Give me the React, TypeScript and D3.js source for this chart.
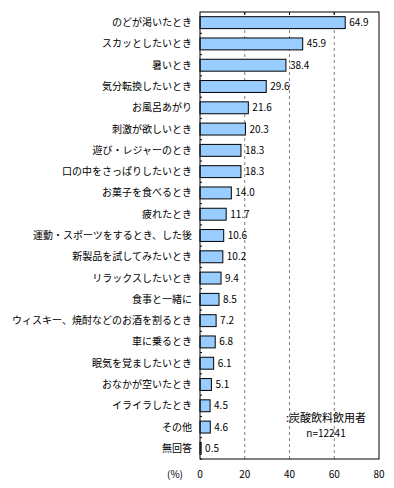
import React from 'react';
import * as d3 from 'd3';

const categories = [
  'のどが渇いたとき',
  'スカッとしたいとき',
  '暑いとき',
  '気分転換したいとき',
  'お風呂あがり',
  '刺激が欲しいとき',
  '遊び・レジャーのとき',
  '口の中をさっぱりしたいとき',
  'お菓子を食べるとき',
  '疲れたとき',
  '運動・スポーツをするとき、した後',
  '新製品を試してみたいとき',
  'リラックスしたいとき',
  '食事と一緒に',
  'ウィスキー、焼酎などのお酒を割るとき',
  '車に乗るとき',
  '眠気を覚ましたいとき',
  'おなかが空いたとき',
  'イライラしたとき',
  'その他',
  '無回答',
];
const values = [64.9, 45.9, 38.4, 29.6, 21.6, 20.3, 18.3, 18.3, 14.0, 11.7, 10.6, 10.2, 9.4, 8.5, 7.2, 6.8, 6.1, 5.1, 4.5, 4.6, 0.5];
const ticks = [0, 20, 40, 60, 80];

const W = 394;
const H = 488;
const left = 200;
const right = 379;
const top = 12;
const bottom = 459;
const font = '"Noto Sans CJK JP", sans-serif';

export default function App() {
  const x = d3.scaleLinear().domain([0, 80]).range([left, right]);
  const y = d3.scaleBand<string>().domain(categories).range([top, bottom]).paddingInner(0.44).paddingOuter(0.22);
  const step = y.step();
  return (
    <svg width={W} height={H} style={{ position: 'absolute', left: 0, top: 0, background: '#fff' }}>
      {ticks.slice(1, -1).map(t => (
        <line key={'g' + t} x1={x(t)} x2={x(t)} y1={top} y2={bottom} stroke="#808080" strokeDasharray="3,3" />
      ))}
      {ticks.slice(1, -1).map(t => (
        <line key={'tt' + t} x1={x(t)} x2={x(t)} y1={top} y2={top + 3} stroke="#000" />
      ))}
      {categories.map((c, i) => (
        <line key={'yt' + i} x1={left} x2={left + 2} y1={top + step * (i + 1)} y2={top + step * (i + 1)} stroke="#000" />
      ))}
      {categories.map((c, i) => (
        <rect key={'b' + i} x={x(0)} y={y(c)} width={x(values[i]) - x(0)} height={y.bandwidth()}
          fill="#99ccff" stroke="#000" strokeWidth={1} />
      ))}
      {categories.map((c, i) => (
        <text key={'v' + i} x={x(values[i]) + 4} y={(y(c) as number) + y.bandwidth() / 2} dy="0.35em"
          fontSize={10} fontFamily={font}>{values[i].toFixed(1)}</text>
      ))}
      {categories.map((c, i) => (
        <text key={'c' + i} x={192} y={(y(c) as number) + y.bandwidth() / 2} dy="0.35em" textAnchor="end"
          fontSize={10} fontFamily={font}>{c}</text>
      ))}
      <rect x={left} y={top} width={right - left} height={bottom - top} fill="none" stroke="#000" strokeWidth={1} />
      {ticks.map(t => (
        <text key={'xl' + t} x={x(t)} y={478} textAnchor="middle" fontSize={10} fontFamily={font}>{t}</text>
      ))}
      <text x={183} y={478} textAnchor="end" fontSize={10} fontFamily={font}>(%)</text>
      <text x={286} y={422} fontSize={11} fontFamily={font}>:炭酸飲料飲用者</text>
      <text x={326} y={437} textAnchor="middle" fontSize={10} fontFamily={font}>n=12241</text>
    </svg>
  );
}
